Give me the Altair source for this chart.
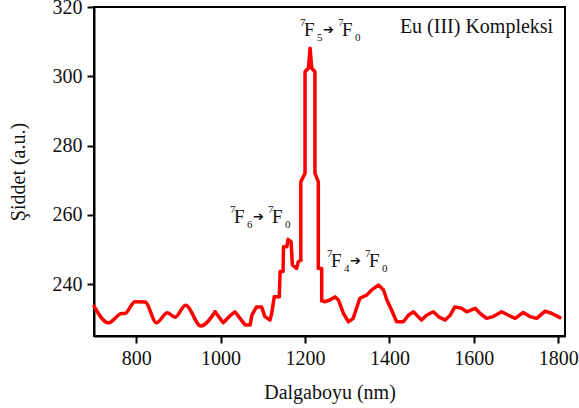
import altair as alt
import pandas as pd

# smooth low-wavelength section (nm, intensity)
smooth_nm = [700, 734, 766, 773, 797, 821, 848, 874, 892, 917, 953, 987]
smooth_val = [233.6, 228.8, 231.5, 231.5, 234.9, 234.8, 228.8, 231.7, 230.4, 233.9, 227.9, 232.0]

# stepped section before the main band
pre_nm = [987, 1006, 1022, 1034, 1046, 1058, 1070, 1074, 1085, 1097, 1105, 1117, 1121,
          1127, 1139, 1141, 1148, 1149, 1157, 1160, 1167, 1170, 1180, 1184, 1190]
pre_val = [232.0, 228.8, 230.8, 232.0, 230.1, 228.2, 228.2, 231.0, 233.4, 233.4, 230.6, 229.6, 231.5,
           236.3, 236.3, 243.6, 243.6, 250.8, 250.8, 252.9, 252.2, 245.5, 244.5, 246.4, 246.9]

# main band (7F5 -> 7F0)
peak_nm = [1190, 1190, 1200, 1200, 1208, 1212, 1216, 1223.5, 1223.5, 1231.5, 1231.5, 1239.5, 1239.5]
peak_val = [246.9, 269.5, 272.0, 301.3, 302.3, 308.1, 302.3, 301.3, 272.0, 269.5, 244.5, 244.5, 235.2]

# stepped section after the main band
post_nm = [1239.5, 1247, 1259, 1271, 1279, 1291, 1303, 1314, 1322, 1330, 1346, 1358,
           1374, 1386, 1394, 1405, 1417, 1433, 1445, 1457, 1468, 1476, 1488, 1504,
           1516, 1532, 1544, 1555, 1571, 1583, 1603, 1615, 1630, 1646, 1666, 1682,
           1698, 1717, 1733, 1749, 1769, 1785, 1804]
post_val = [235.2, 234.9, 235.4, 236.3, 235.4, 231.5, 229.1, 230.1, 233.0, 235.9, 236.8, 238.3,
            239.7, 238.3, 235.4, 232.5, 229.1, 229.1, 231.0, 232.0, 230.6, 229.6, 231.0, 232.0,
            230.6, 229.6, 231.0, 233.4, 233.0, 232.0, 233.0, 231.5, 230.1, 230.6, 232.0, 231.0,
            230.1, 231.8, 230.6, 230.1, 232.2, 231.5, 230.3]

# transition labels
label_nm = [1022, 1188, 1252]
label_val = [257.6, 311.6, 244.9]
label_sub_from = ["6", "5", "4"]
label_sub_to = ["0", "0", "0"]

x_ticks = [800, 1000, 1200, 1400, 1600, 1800]
y_ticks = [240, 260, 280, 300, 320]

title_text = ["Eu (III) Kompleksi"]
title_nm = [1788]
title_val = [312.5]

FONT = "Liberation Serif"
RED = "#ff0000"
INK = "#111111"

smooth_df = pd.DataFrame({"nm": smooth_nm, "val": smooth_val})
pre_df = pd.DataFrame({"nm": pre_nm, "val": pre_val, "i": list(range(len(pre_nm)))})
peak_df = pd.DataFrame({"nm": peak_nm, "val": peak_val, "i": list(range(len(peak_nm)))})
post_df = pd.DataFrame({"nm": post_nm, "val": post_val, "i": list(range(len(post_nm)))})
lab_df = pd.DataFrame({"nm": label_nm, "val": label_val, "s1": label_sub_from, "s2": label_sub_to})
ttl_df = pd.DataFrame({"nm": title_nm, "val": title_val, "t": title_text})

xscale = alt.Scale(domain=[700, 1816], nice=False, zero=False)
yscale = alt.Scale(domain=[225, 320], nice=False, zero=False)

axis_style = dict(
    grid=False, labelFlush=False, format="d",
    domainColor="black", domainWidth=2, tickColor="black", tickWidth=2, tickSize=7,
    labelFont=FONT, labelFontSize=20, labelColor=INK, labelPadding=5,
    titleFont=FONT, titleFontSize=20, titleColor=INK, titleFontWeight="normal",
    titleBaseline="middle",
)
xaxis = alt.Axis(values=x_ticks, title="Dalgaboyu (nm)", titleX=235.5, titleY=56, **axis_style)
yaxis = alt.Axis(values=y_ticks, title="Şiddet (a.u.)", titleX=-76, titleY=164.5, **axis_style)

X = alt.X("nm:Q", scale=xscale, axis=xaxis)
Y = alt.Y("val:Q", scale=yscale, axis=yaxis)

line_style = dict(color=RED, strokeWidth=3.5, strokeJoin="round", strokeCap="round")

smooth = alt.Chart(smooth_df).mark_line(interpolate="monotone", **line_style).encode(x=X, y=Y)
pre = alt.Chart(pre_df).mark_line(**line_style).encode(x=X, y=Y, order="i:Q")
peak = alt.Chart(peak_df).mark_line(**line_style).encode(x=X, y=Y, order="i:Q")
post = alt.Chart(post_df).mark_line(**line_style).encode(x=X, y=Y, order="i:Q")

def piece(text, size, dx, dy, font=FONT):
    base = alt.Chart(lab_df).mark_text(align="left", baseline="alphabetic", font=font,
                                       fontSize=size, dx=dx, dy=dy, color=INK)
    if text in ("s1", "s2"):
        return base.encode(x=X, y=Y, text=f"{text}:N")
    return base.encode(x=X, y=Y, text=alt.value(text))

labels = [
    piece("7", 11, 0, -10),
    piece("F", 19, 4, 0),
    piece("s1", 11, 17, 5),
    piece("➔", 13, 23, -2, font="DejaVu Sans"),
    piece("7", 11, 38, -10),
    piece("F", 19, 42, 0),
    piece("s2", 11, 55, 5),
]

ttl = alt.Chart(ttl_df).mark_text(align="right", baseline="alphabetic", font=FONT, fontSize=20,
                                  color=INK).encode(x=X, y=Y, text="t:N")

chart = alt.layer(smooth, pre, peak, post, *labels, ttl).properties(
    width=471, height=329,
    autosize=alt.AutoSizeParams(type="none"),
    padding={"left": 94, "top": 7, "right": 14, "bottom": 72},
).configure_view(stroke="black", strokeWidth=2)

chart.save("out.html", embed_options={"renderer": "svg", "actions": False})
